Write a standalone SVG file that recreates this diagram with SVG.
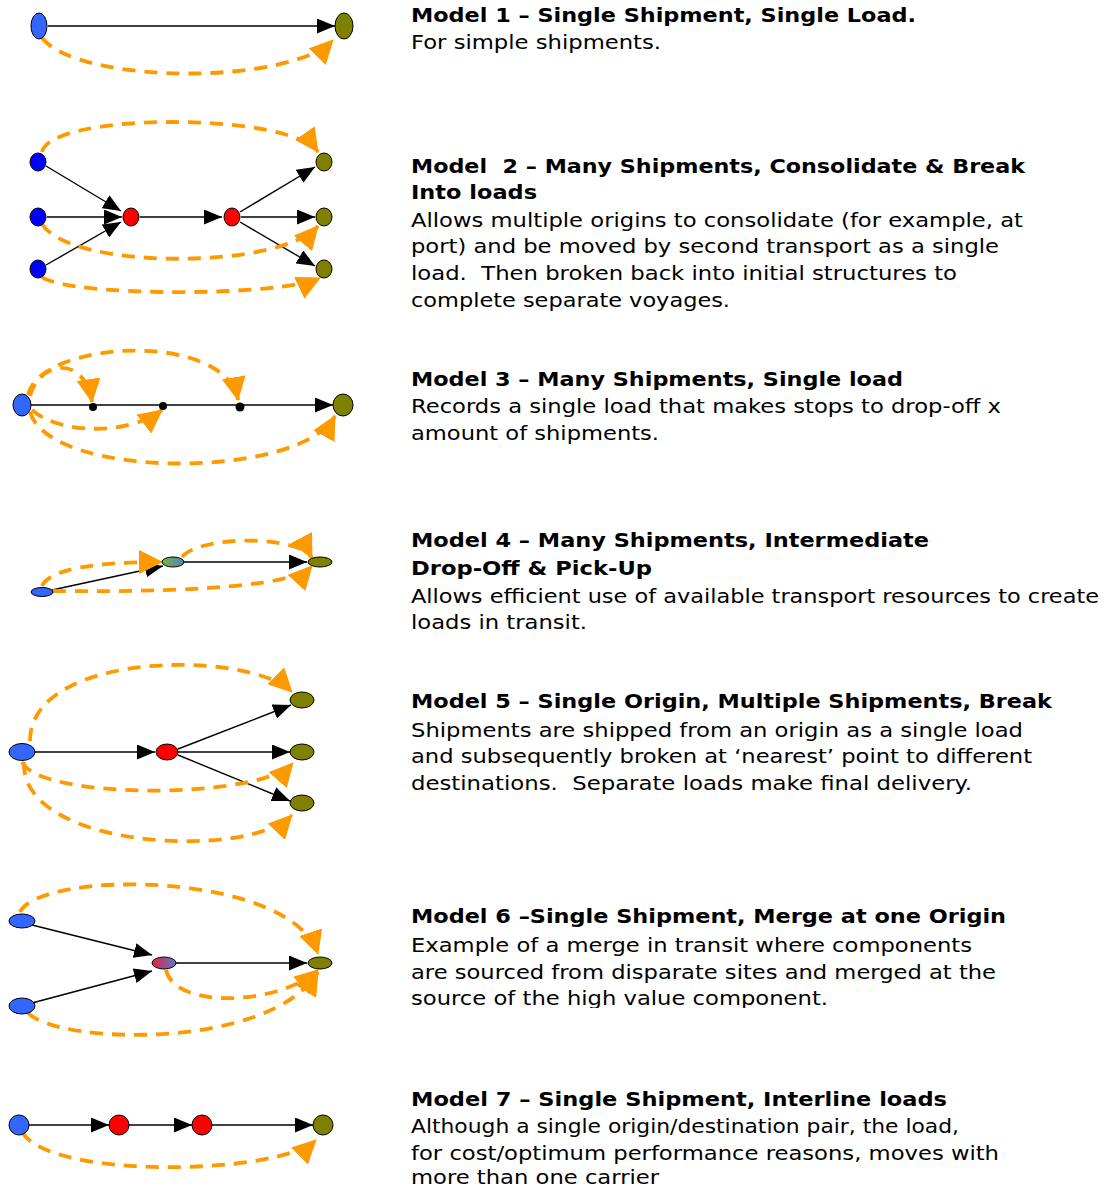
<svg xmlns="http://www.w3.org/2000/svg" width="1108" height="1188" viewBox="0 0 1108 1188">
<style>
.n{stroke:#000;stroke-width:1}
.bl{fill:#3366ff}.bd{fill:#0000ff}.ol{fill:#7f7f00}.rd{fill:#ff0000}.dk{fill:#000}
.e{fill:none;stroke:#000;stroke-width:1.4;marker-end:url(#ab)}
.o{fill:none;stroke:#ff9900;stroke-width:3.8;stroke-dasharray:13 9;marker-end:url(#ao)}
.t{font-family:"DejaVu Sans","Liberation Sans",sans-serif;font-size:20px;fill:#000;white-space:pre}
.b{font-weight:bold}
</style>
<defs>
<marker id="ab" markerUnits="userSpaceOnUse" markerWidth="19" markerHeight="15" refX="18" refY="7.5" orient="auto"><path d="M0,0 L18,7.5 L0,15 z" fill="#000"/></marker>
<marker id="ao" markerUnits="userSpaceOnUse" markerWidth="25" markerHeight="24" refX="23" refY="12" orient="auto"><path d="M0,0 L24,12 L0,24 z" fill="#ff9900"/></marker>
<linearGradient id="g4" x1="0" y1="0" x2="1" y2="0"><stop offset="0" stop-color="#7cb342"/><stop offset="1" stop-color="#4a86b8"/></linearGradient>
<linearGradient id="g6" x1="0" y1="0" x2="1" y2="0"><stop offset="0" stop-color="#e8203a"/><stop offset="1" stop-color="#5a78c8"/></linearGradient>
<clipPath id="c2"><rect x="400" y="140" width="708" height="171"/></clipPath>
<clipPath id="c6"><rect x="400" y="890" width="708" height="118"/></clipPath>
</defs>

<g id="connectors">
<!-- Model 1 -->
<path class="e" d="M48,26 L335,26"/>
<path class="o" d="M42,38 C80,85 290,85 333,40"/>
<!-- Model 2 -->
<path class="e" d="M46,166 L121,211"/>
<path class="e" d="M47,217 L122,217"/>
<path class="e" d="M46,265 L121,222"/>
<path class="e" d="M140,217 L222,217"/>
<path class="e" d="M240,212 L315,167"/>
<path class="e" d="M241,217 L315,217"/>
<path class="e" d="M240,222 L315,266"/>
<path class="o" d="M42,152 C50,112 290,112 318,152"/>
<path class="o" d="M42,224 C70,270 280,270 318,226"/>
<path class="o" d="M42,277 C70,297 280,297 320,278"/>
<!-- Model 3 -->
<path class="e" d="M31,405 L333,405"/>
<path class="o" d="M30,396 C40,360 85,355 92,402"/>
<path class="o" d="M28,395 C40,340 225,330 238,400"/>
<path class="o" d="M32,410 C60,435 130,435 162,410"/>
<path class="o" d="M30,412 C50,480 300,480 335,416"/>
<!-- Model 4 -->
<path class="e" d="M52,590 L163,566"/>
<path class="e" d="M184,562 L307,562"/>
<path class="o" d="M42,586 C50,568 100,562 162,562"/>
<path class="o" d="M182,557 C200,535 300,535 312,558"/>
<path class="o" d="M53,591 C150,592 290,590 312,566"/>
<!-- Model 5 -->
<path class="e" d="M35,752 L155,752"/>
<path class="e" d="M178,749 L291,705"/>
<path class="e" d="M178,752 L290,752"/>
<path class="e" d="M178,755 L290,801"/>
<path class="o" d="M30,741 C30,650 250,650 292,692"/>
<path class="o" d="M22,762 C40,800 260,800 293,763"/>
<path class="o" d="M24,762 C20,850 250,860 292,815"/>
<!-- Model 6 -->
<path class="e" d="M32,925 L152,955"/>
<path class="e" d="M32,1003 L152,971"/>
<path class="e" d="M176,963 L307,963"/>
<path class="o" d="M20,912 C40,870 290,870 318,954"/>
<path class="o" d="M166,970 C175,1010 280,1005 318,970"/>
<path class="o" d="M28,1013 C60,1045 270,1050 318,972"/>
<!-- Model 7 -->
<path class="e" d="M29,1125 L109,1125"/>
<path class="e" d="M129,1125 L192,1125"/>
<path class="e" d="M212,1125 L313,1125"/>
<path class="o" d="M22,1132 C50,1180 280,1175 316,1140"/>
</g>

<g id="model1">
<ellipse id="m1-origin" class="n bl" cx="39" cy="26" rx="8" ry="13"/>
<ellipse id="m1-dest" class="n ol" cx="344" cy="26" rx="9" ry="13"/>
<text class="t b" x="411" y="22" textLength="505" lengthAdjust="spacingAndGlyphs">Model 1 – Single Shipment, Single Load.</text>
<text class="t" x="411" y="49" textLength="250" lengthAdjust="spacingAndGlyphs">For simple shipments.</text>
</g>

<g id="model2">
<ellipse id="m2-o1" class="n bd" cx="38" cy="162" rx="8" ry="9"/>
<ellipse id="m2-o2" class="n bd" cx="38" cy="217" rx="8" ry="9"/>
<ellipse id="m2-o3" class="n bd" cx="38" cy="269" rx="8" ry="9"/>
<ellipse id="m2-c1" class="n rd" cx="131" cy="217" rx="8" ry="9"/>
<ellipse id="m2-c2" class="n rd" cx="232" cy="217" rx="8" ry="9"/>
<ellipse id="m2-d1" class="n ol" cx="324" cy="162" rx="8" ry="9"/>
<ellipse id="m2-d2" class="n ol" cx="324" cy="217" rx="8" ry="9"/>
<ellipse id="m2-d3" class="n ol" cx="324" cy="269" rx="8" ry="9"/>
<g clip-path="url(#c2)">
<text class="t b" x="411" y="173" textLength="614" lengthAdjust="spacingAndGlyphs" xml:space="preserve">Model  2 – Many Shipments, Consolidate &amp; Break</text>
<text class="t b" x="411" y="199" textLength="126" lengthAdjust="spacingAndGlyphs">Into loads</text>
<text class="t" x="411" y="227" textLength="612" lengthAdjust="spacingAndGlyphs">Allows multiple origins to consolidate (for example, at</text>
<text class="t" x="411" y="253" textLength="588" lengthAdjust="spacingAndGlyphs">port) and be moved by second transport as a single</text>
<text class="t" x="411" y="280" textLength="546" lengthAdjust="spacingAndGlyphs" xml:space="preserve">load.  Then broken back into initial structures to</text>
<text class="t" x="411" y="307" textLength="319" lengthAdjust="spacingAndGlyphs">complete separate voyages.</text>
</g>
</g>

<g id="model3">
<ellipse id="m3-origin" class="n bl" cx="22" cy="405" rx="9" ry="11"/>
<circle id="m3-s1" class="dk" cx="93" cy="407" r="4"/>
<circle id="m3-s2" class="dk" cx="163" cy="406" r="4"/>
<circle id="m3-s3" class="dk" cx="240" cy="407" r="4.5"/>
<ellipse id="m3-dest" class="n ol" cx="343" cy="405" rx="10" ry="11"/>
<text class="t b" x="411" y="386" textLength="492" lengthAdjust="spacingAndGlyphs">Model 3 – Many Shipments, Single load</text>
<text class="t" x="411" y="413" textLength="590" lengthAdjust="spacingAndGlyphs">Records a single load that makes stops to drop-off x</text>
<text class="t" x="411" y="440" textLength="248" lengthAdjust="spacingAndGlyphs">amount of shipments.</text>
</g>

<g id="model4">
<ellipse id="m4-origin" class="n bl" cx="42" cy="592" rx="11" ry="4.5"/>
<ellipse id="m4-mid" class="n" fill="url(#g4)" cx="173" cy="562" rx="11" ry="5"/>
<ellipse id="m4-dest" class="n ol" cx="320" cy="562" rx="12" ry="5"/>
<text class="t b" x="411" y="547" textLength="518" lengthAdjust="spacingAndGlyphs">Model 4 – Many Shipments, Intermediate</text>
<text class="t b" x="411" y="575" textLength="241" lengthAdjust="spacingAndGlyphs">Drop-Off &amp; Pick-Up</text>
<text class="t" x="411" y="603" textLength="688" lengthAdjust="spacingAndGlyphs">Allows efficient use of available transport resources to create</text>
<text class="t" x="411" y="629" textLength="176" lengthAdjust="spacingAndGlyphs">loads in transit.</text>
</g>

<g id="model5">
<ellipse id="m5-origin" class="n bl" cx="22" cy="752" rx="13" ry="8.5"/>
<ellipse id="m5-break" class="n rd" cx="167" cy="752" rx="11" ry="8"/>
<ellipse id="m5-d1" class="n ol" cx="302" cy="700" rx="12" ry="8"/>
<ellipse id="m5-d2" class="n ol" cx="302" cy="752" rx="12" ry="8"/>
<ellipse id="m5-d3" class="n ol" cx="302" cy="803" rx="12" ry="8"/>
<text class="t b" x="411" y="708" textLength="641" lengthAdjust="spacingAndGlyphs">Model 5 – Single Origin, Multiple Shipments, Break</text>
<text class="t" x="411" y="737" textLength="612" lengthAdjust="spacingAndGlyphs">Shipments are shipped from an origin as a single load</text>
<text class="t" x="411" y="763" textLength="621" lengthAdjust="spacingAndGlyphs">and subsequently broken at ‘nearest’ point to different</text>
<text class="t" x="411" y="790" textLength="561" lengthAdjust="spacingAndGlyphs" xml:space="preserve">destinations.  Separate loads make final delivery.</text>
</g>

<g id="model6">
<ellipse id="m6-o1" class="n bl" cx="22" cy="921" rx="13" ry="7"/>
<ellipse id="m6-o2" class="n bl" cx="22" cy="1006" rx="13" ry="8"/>
<ellipse id="m6-merge" class="n" fill="url(#g6)" cx="164" cy="963" rx="12" ry="6"/>
<ellipse id="m6-dest" class="n ol" cx="320" cy="963" rx="12" ry="6"/>
<g clip-path="url(#c6)">
<text class="t b" x="411" y="923" textLength="595" lengthAdjust="spacingAndGlyphs">Model 6 –Single Shipment, Merge at one Origin</text>
<text class="t" x="411" y="952" textLength="561" lengthAdjust="spacingAndGlyphs">Example of a merge in transit where components</text>
<text class="t" x="411" y="979" textLength="585" lengthAdjust="spacingAndGlyphs">are sourced from disparate sites and merged at the</text>
<text class="t" x="411" y="1005" textLength="417" lengthAdjust="spacingAndGlyphs">source of the high value component.</text>
</g>
</g>

<g id="model7">
<circle id="m7-origin" class="n bl" cx="19" cy="1125" r="10"/>
<circle id="m7-c1" class="n rd" cx="119" cy="1125" r="10"/>
<circle id="m7-c2" class="n rd" cx="202" cy="1125" r="10"/>
<circle id="m7-dest" class="n ol" cx="323" cy="1125" r="10"/>
<text class="t b" x="411" y="1106" textLength="536" lengthAdjust="spacingAndGlyphs">Model 7 – Single Shipment, Interline loads</text>
<text class="t" x="411" y="1133" textLength="548" lengthAdjust="spacingAndGlyphs">Although a single origin/destination pair, the load,</text>
<text class="t" x="411" y="1160" textLength="588" lengthAdjust="spacingAndGlyphs">for cost/optimum performance reasons, moves with</text>
<text class="t" x="411" y="1184" textLength="248" lengthAdjust="spacingAndGlyphs">more than one carrier</text>
</g>
</svg>
